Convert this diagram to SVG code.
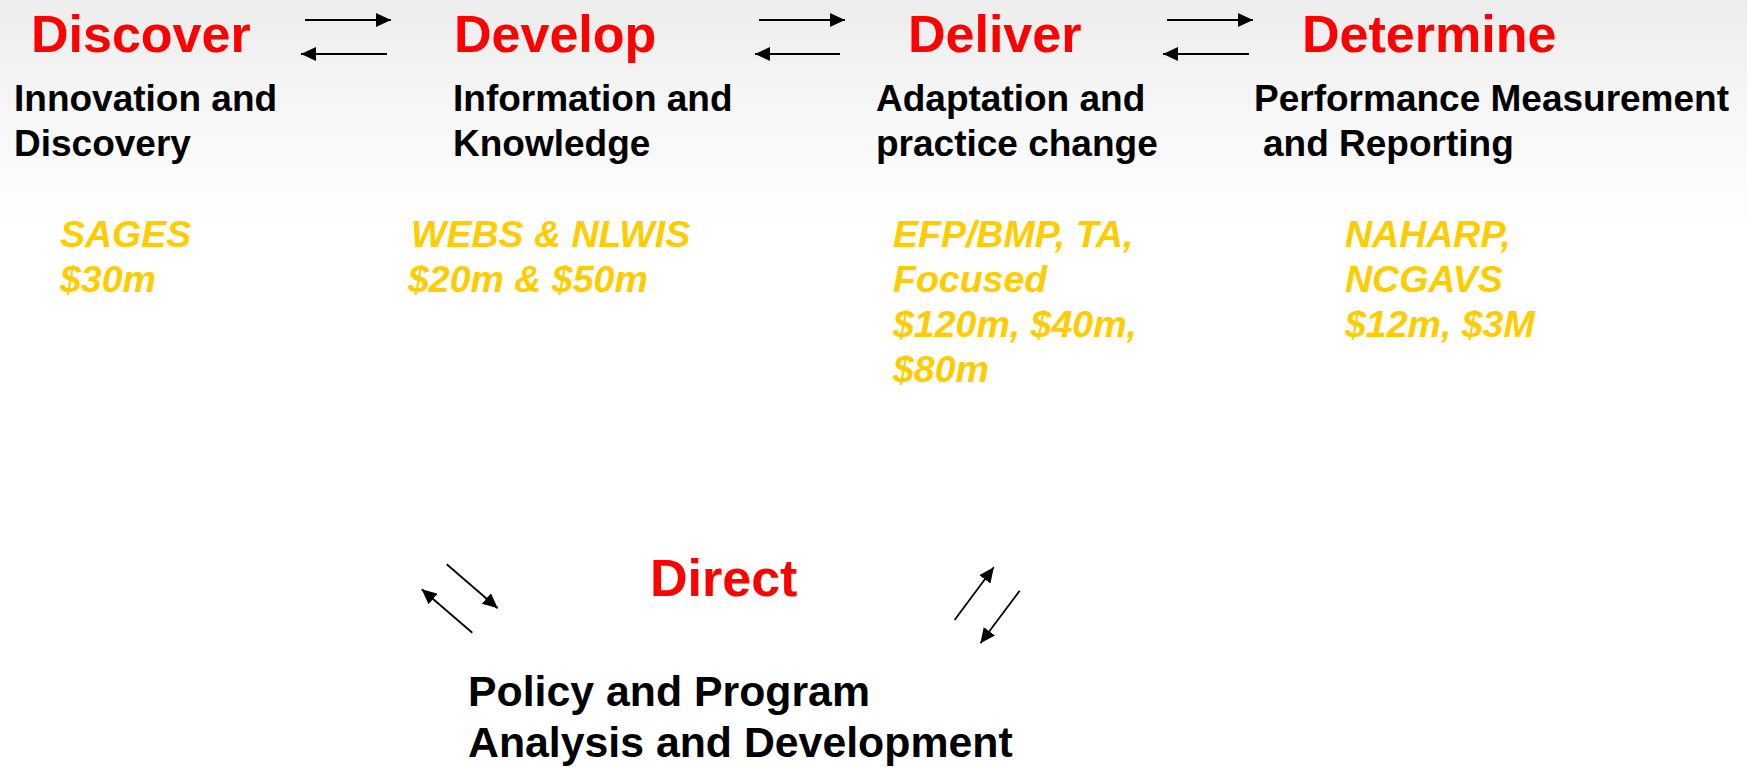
<svg xmlns="http://www.w3.org/2000/svg" width="1747" height="767" viewBox="0 0 1747 767">
  <style>
    .stage { font-family: "Liberation Sans", Arial, sans-serif; font-weight: bold; font-size: 52px; fill: #ff0000; }
    .desc { font-family: "Liberation Sans", Arial, sans-serif; font-weight: bold; font-size: 37px; fill: #000000; }
    .prog { font-family: "Liberation Sans", Arial, sans-serif; font-weight: bold; font-style: italic; font-size: 37.5px; fill: #ffcc00; }
    .policy { font-family: "Liberation Sans", Arial, sans-serif; font-weight: bold; font-size: 42.8px; fill: #000000; }
    .flow { stroke: #000000; stroke-width: 1.8; fill: none; marker-end: url(#head); }
  </style>
  <defs>
    <linearGradient id="bg" x1="0" y1="0" x2="0" y2="1">
      <stop offset="0" stop-color="#ececec"/>
      <stop offset="0.12" stop-color="#f5f5f5"/>
      <stop offset="0.3" stop-color="#ffffff"/>
      <stop offset="1" stop-color="#ffffff"/>
    </linearGradient>
    <marker id="head" markerUnits="userSpaceOnUse" markerWidth="16" markerHeight="14" refX="15" refY="7" orient="auto">
      <path d="M0,0 L15,7 L0,14 z" fill="#000000"/>
    </marker>
  </defs>

  <rect x="0" y="0" width="1747" height="767" fill="url(#bg)"/>

  <!-- Stage: Discover -->
  <g id="discover">
    <text class="stage" x="31" y="52">Discover</text>
    <text class="desc" x="14" y="111">Innovation and</text>
    <text class="desc" x="14" y="156">Discovery</text>
    <text class="prog" x="60" y="247">SAGES</text>
    <text class="prog" x="60" y="292">$30m</text>
  </g>

  <!-- Stage: Develop -->
  <g id="develop">
    <text class="stage" x="454" y="52">Develop</text>
    <text class="desc" x="453" y="111">Information and</text>
    <text class="desc" x="453" y="156">Knowledge</text>
    <text class="prog" x="411" y="247">WEBS &amp; NLWIS</text>
    <text class="prog" x="408" y="292">$20m &amp; $50m</text>
  </g>

  <!-- Stage: Deliver -->
  <g id="deliver">
    <text class="stage" x="908" y="52">Deliver</text>
    <text class="desc" x="876" y="111">Adaptation and</text>
    <text class="desc" x="876" y="156">practice change</text>
    <text class="prog" x="893" y="247">EFP/BMP, TA,</text>
    <text class="prog" x="893" y="292">Focused</text>
    <text class="prog" x="893" y="337">$120m, $40m,</text>
    <text class="prog" x="893" y="382">$80m</text>
  </g>

  <!-- Stage: Determine -->
  <g id="determine">
    <text class="stage" x="1302" y="52">Determine</text>
    <text class="desc" x="1254" y="111">Performance Measurement</text>
    <text class="desc" x="1263" y="156">and Reporting</text>
    <text class="prog" x="1345" y="247">NAHARP,</text>
    <text class="prog" x="1345" y="292">NCGAVS</text>
    <text class="prog" x="1345" y="337">$12m, $3M</text>
  </g>

  <!-- Central stage: Direct -->
  <g id="direct">
    <text class="stage" x="650" y="596">Direct</text>
    <text class="policy" x="468" y="706">Policy and Program</text>
    <text class="policy" x="468" y="757">Analysis and Development</text>
  </g>

  <!-- Two-way flows between stages -->
  <g id="connectors">
    <line class="flow" x1="305" y1="20" x2="391" y2="20"/>
    <line class="flow" x1="387" y1="54" x2="301" y2="54"/>
    <line class="flow" x1="759" y1="20" x2="845" y2="20"/>
    <line class="flow" x1="840" y1="54" x2="755" y2="54"/>
    <line class="flow" x1="1167" y1="20" x2="1253" y2="20"/>
    <line class="flow" x1="1249" y1="54" x2="1163" y2="54"/>
    <line class="flow" x1="446.7" y1="564.3" x2="497.7" y2="608.3"/>
    <line class="flow" x1="472.3" y1="632.7" x2="421.7" y2="589.3"/>
    <line class="flow" x1="954.6" y1="620" x2="993.8" y2="567.3"/>
    <line class="flow" x1="1019.7" y1="590.7" x2="980.4" y2="643.3"/>
  </g>
</svg>
